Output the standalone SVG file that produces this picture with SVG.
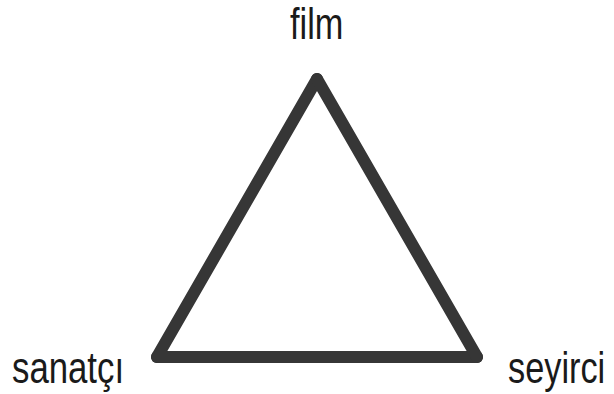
<svg xmlns="http://www.w3.org/2000/svg" width="614" height="394" viewBox="0 0 614 394">
  <style>
    .lbl { font-family: "Liberation Sans", Arial, sans-serif; font-size: 44px; fill: #1a1a1a; }
    .edge { stroke: #363636; stroke-width: 12; stroke-linecap: round; fill: none; }
  </style>
  <rect width="614" height="394" fill="#ffffff"/>
  <g id="connectors">
    <line class="edge" x1="317" y1="79" x2="157" y2="357"/>
    <line class="edge" x1="157" y1="357" x2="477" y2="357"/>
    <line class="edge" x1="477" y1="357" x2="317" y2="79"/>
  </g>
  <g id="node-film">
    <text class="lbl" transform="translate(290 39) scale(0.78 1)">film</text>
  </g>
  <g id="node-sanatci">
    <text class="lbl" transform="translate(12 383) scale(0.79 1)">sanatçı</text>
  </g>
  <g id="node-seyirci">
    <text class="lbl" transform="translate(508 383) scale(0.78 1)">seyirci</text>
  </g>
</svg>
